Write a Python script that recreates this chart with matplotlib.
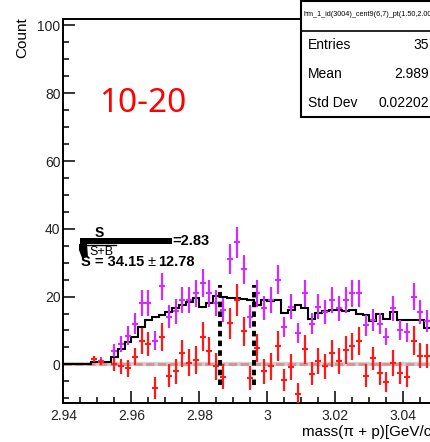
import numpy as np
import matplotlib
matplotlib.use("Agg")
import matplotlib.pyplot as plt
from matplotlib.patches import Rectangle, Polygon
from matplotlib.lines import Line2D

plt.rcParams['font.family'] = ['Liberation Sans', 'DejaVu Sans']
plt.rcParams['lines.scale_dashes'] = False

W, H = 431, 442

# ---- data: 2 MeV bins starting at 2.940 GeV ----
mass_lo, bin_width, n_bins = 2.940, 0.002, 55

background = [0, 0, 0, 0, 0.6, 0.6, 0.6, 2.3, 4.5, 6.7,
              8.2, 11.0, 13.0, 14.0, 14.5, 15.5, 16.5, 17.5, 18.5, 19.7,
              17.0, 18.0, 20.3, 20.0, 19.6, 19.5, 19.3, 19.0, 17.5, 18.9,
              18.6, 19.1, 15.3, 16.1, 17.5, 16.6, 13.3, 15.3, 15.8, 16.1,
              16.1, 15.8, 16.0, 15.0, 14.5, 12.8, 14.8, 13.5, 15.5, 13.1,
              13.1, 13.1, 13.1, 10.7, 12.6]

nan = np.nan
same_event = [nan, nan, nan, nan, nan, 1.1, nan, 4.0, 6.0, 8.5,
              12.0, 18.0, 18.0, 7.0, 23.0, 14.0, 15.6, 19.0, 19.0, 21.0,
              24.0, 21.0, 18.0, 16.0, 31.0, 36.0, 28.0, 14.0, 21.0, 16.6,
              19.0, 25.0, 11.0, 17.0, 9.2, 21.0, 12.0, 17.0, 15.5, 19.0,
              16.5, 19.0, 21.0, 21.0, 11.5, 13.0, 12.0, 8.2, 16.5, 10.2,
              9.5, 20.0, 15.4, 12.8, nan]
same_event_err = [nan, nan, nan, nan, nan, 1.0, nan, 1.9, 2.3, 2.7,
                  3.1, 3.8, 3.8, 2.9, 4.1, 3.4, 3.6, 3.9, 3.9, 4.0,
                  4.2, 4.0, 3.8, 3.6, 4.4, 4.6, 4.3, 3.4, 4.0, 3.6,
                  3.9, 4.3, 3.0, 3.7, 3.0, 4.0, 3.1, 3.7, 3.5, 3.9,
                  3.6, 3.9, 4.0, 4.0, 3.0, 3.2, 3.1, 2.6, 3.6, 2.9,
                  2.8, 4.0, 3.5, 3.2, nan]

signal = [nan, nan, nan, nan, 1.6, 0.6, nan, 0.0, -0.6, -1.2,
          2.3, 7.0, 6.0, -7.0, 8.0, -3.3, -2.1, 3.3, 0.5, 1.3,
          8.2, 4.0, -0.6, -3.6, 12.1, 19.0, 9.7, -4.1, 4.8, -2.1,
          -0.6, 5.5, -4.6, -0.8, -8.6, 4.4, -2.8, 1.0, -0.6, 3.3,
          1.0, 4.3, 5.3, 7.0, -3.3, 1.8, -2.6, -5.3, 0.5, -2.6,
          -3.6, 7.0, 2.5, 2.5, nan]
signal_err = [nan, nan, nan, nan, 1.0, 0.9, nan, 1.9, 2.2, 2.6,
              2.6, 3.8, 3.6, 3.2, 4.2, 3.5, 3.6, 4.0, 4.0, 4.1,
              4.3, 4.1, 4.0, 3.8, 4.6, 4.7, 4.4, 3.6, 4.2, 3.8,
              4.0, 4.4, 3.3, 3.9, 3.2, 4.2, 3.4, 3.9, 3.7, 4.0,
              3.8, 4.1, 4.1, 4.1, 3.3, 3.4, 3.4, 3.0, 3.8, 3.2,
              3.1, 4.2, 3.7, 3.5, nan]

mass_window = [2.986, 2.996]
window_span = [-6.0, 23.5]

centrality = "10-20"
significance = "2.83"
signal_yield = "34.15"
signal_yield_err = "12.78"
hist_name = "hm_1_id(3004)_cent9(6,7)_pt(1.50,2.00)"
stats = [("Entries", "35"), ("Mean", "2.989"), ("Std Dev", "0.02202")]

edges = mass_lo + bin_width * np.arange(n_bins + 1)
centers = 0.5 * (edges[:-1] + edges[1:])

MAGENTA = '#d12cff'
RED = '#ff1a1a'

fig = plt.figure(figsize=(W / 100, H / 100), dpi=100)


def fx(x):
    return x / W


def fy(y):
    return 1 - y / H


# axes frame: x=2.94 at px 63.3, 3400 px per GeV; y=0 at px 364.5, 3.39 px per count
ax_left, ax_top, ax_bottom = 63.3, 19.0, 403.0
x_max = 3.06
ax = fig.add_axes([fx(ax_left), fy(ax_bottom),
                   (x_max - mass_lo) * 3400 / W, (ax_bottom - ax_top) / H])
ax.set_xlim(mass_lo, x_max)
ax.set_ylim(-11.4, 101.9)

# zero reference line
ax.axhline(0, color='#cfcfcf', lw=3.0, zorder=1)
ax.axhline(0, color='#e07a7a', lw=2.0, alpha=0.75, dashes=(6, 2.5), zorder=1.5)

# mixed-event background
ax.stairs(background, edges, color='black', lw=1.5, zorder=2)

# same-event and background-subtracted spectra
ax.errorbar(centers, same_event, yerr=same_event_err, fmt='_', color=MAGENTA,
            ms=4, mew=1.5, elinewidth=1.6, capsize=0, zorder=3)
ax.errorbar(centers, signal, yerr=signal_err, fmt='_', color=RED,
            ms=4, mew=1.5, elinewidth=1.6, capsize=0, zorder=4)

# signal window
for xw in mass_window:
    ax.plot([xw, xw], window_span, color='black', lw=2.8, dashes=(4, 3),
            solid_capstyle='butt', dash_capstyle='butt', zorder=5)

# axis styling
for side in ['left', 'bottom', 'top', 'right']:
    ax.spines[side].set_linewidth(1.4)
ax.set_xticks([2.94, 2.96, 2.98, 3.00, 3.02, 3.04])
ax.set_xticklabels(['2.94', '2.96', '2.98', '3', '3.02', '3.04'])
ax.set_xticks(np.arange(2.94, 3.0601, 0.005), minor=True)
ax.set_yticks([0, 20, 40, 60, 80, 100])
ax.set_yticks(np.arange(-10, 101, 5), minor=True)
ax.tick_params(which='both', direction='in', top=False, right=False,
               labelsize=10, colors='black', labelcolor='#222222')
ax.tick_params(which='major', length=8.5, width=1.1)
ax.tick_params(which='minor', length=4.3, width=1.1)
ax.tick_params(axis='y', pad=2)
ax.tick_params(axis='x', pad=4)

# axis titles
fig.text(fx(22), fy(17), "Count", rotation=90, ha='center', va='top', fontsize=11)
fig.text(fx(302), fy(432), "mass(\u03c0 + p)[GeV/c\u00b2]", ha='left', va='center',
         fontsize=11)

# centrality label
fig.text(fx(99), fy(103), centrality, color='#ff0000', fontsize=24,
         family=['Noto Sans', 'DejaVu Sans'], ha='left', va='center')

# significance and yield
fig.text(fx(99), fy(233), "S", fontsize=10, fontweight='bold', ha='center', va='center')
fig.add_artist(Rectangle((fx(80), fy(244)), fx(172) - fx(80), fy(238) - fy(244),
                         transform=fig.transFigure, color='black', lw=0))
fig.add_artist(Polygon([(fx(79), fy(244)), (fx(87), fy(244)), (fx(88), fy(257)),
                        (fx(82), fy(258)), (fx(79), fy(250))],
                       closed=True, transform=fig.transFigure, color='black', lw=0))
fig.text(fx(172), fy(241), "=" + significance, fontsize=10.5, fontweight='bold',
         ha='left', va='center')
fig.text(fx(89), fy(252), "S+B", fontsize=9, ha='left', va='center')
fig.add_artist(Line2D([fx(87), fx(116)], [fy(245), fy(245)], transform=fig.transFigure,
                      color='black', lw=1.0))
fig.text(fx(81), fy(262), "S = " + signal_yield, fontsize=10.5, fontweight='bold',
         ha='left', va='center')
fig.text(fx(148), fy(262), "\u00b1", fontsize=10.5, ha='left', va='center')
fig.text(fx(158), fy(262), signal_yield_err, fontsize=10.5, fontweight='bold',
         ha='left', va='center')

# statistics box
fig.add_artist(Rectangle((fx(301), fy(117)), fx(445) - fx(301), fy(1) - fy(117),
                         transform=fig.transFigure, facecolor='white',
                         edgecolor='black', lw=1.5, zorder=10))
fig.add_artist(Line2D([fx(301), fx(431)], [fy(31), fy(31)], transform=fig.transFigure,
                      color='black', lw=1.2, zorder=11))
fig.text(fx(304), fy(15), hist_name, fontsize=5.2, ha='left', va='center', zorder=12)
for k, (name, val) in enumerate(stats):
    yy = 45 + 29 * k
    fig.text(fx(308), fy(yy), name, fontsize=10, ha='left', va='center', zorder=12)
    fig.text(fx(429), fy(yy), val, fontsize=10, ha='right', va='center', zorder=12)

fig.savefig("out.png", dpi=100)
